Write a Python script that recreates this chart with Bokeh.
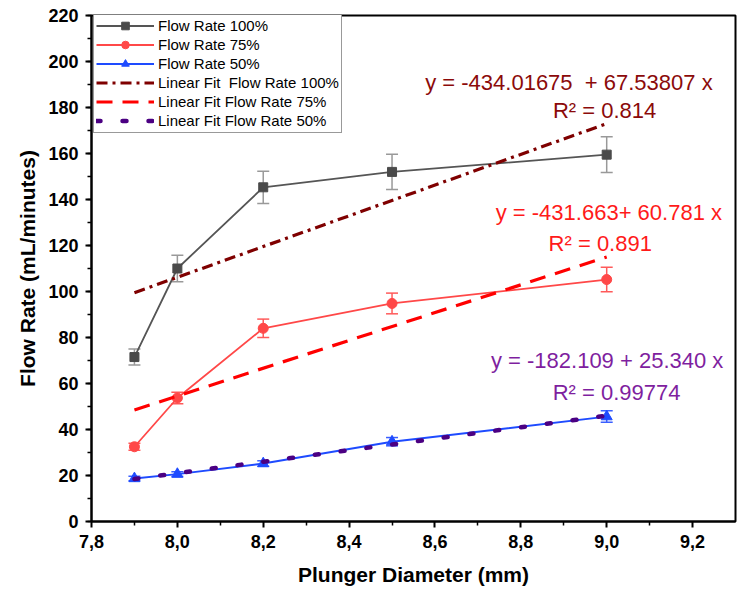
from bokeh.plotting import figure
from bokeh.models import (ColumnDataSource, Whisker, TeeHead, Legend, LegendItem,
                          Label, FixedTicker, SingleIntervalTicker, Range1d)
from bokeh.embed import file_html
from bokeh.resources import INLINE

# ---- data ----
diam = [7.9, 8.0, 8.2, 8.5, 9.0]
flow100 = [71.5, 110.0, 145.3, 152.0, 159.5]
err100 = [3.5, 5.8, 7.0, 7.7, 7.8]
flow75 = [32.5, 53.7, 84.0, 94.8, 105.2]
err75 = [1.5, 2.5, 4.0, 4.5, 5.3]
flow50 = [18.7, 20.6, 25.2, 34.7, 45.6]
err50 = [1.0, 1.0, 1.2, 1.8, 2.5]

fit_x = [7.9, 9.0]
fit100 = [99.5, 173.0]
fit75 = [48.5, 115.0]
fit50 = [18.5, 46.0]

x_ticks = [7.8, 8.0, 8.2, 8.4, 8.6, 8.8, 9.0, 9.2]
x_tick_labels = ["7,8", "8,0", "8,2", "8,4", "8,6", "8,8", "9,0", "9,2"]
x_minor = [7.9, 8.1, 8.3, 8.5, 8.7, 8.9, 9.1]

series_labels = ["Flow Rate 100%", "Flow Rate 75%", "Flow Rate 50%",
                 "Linear Fit \u00a0Flow Rate 100%", "Linear Fit Flow Rate 75%",
                 "Linear Fit Flow Rate 50%"]
eq100 = ["y = -434.01675 \u00a0+ 67.53807 x", "R\u00b2 = 0.814"]
eq75 = ["y = -431.663+ 60.781 x", "R\u00b2 = 0.891"]
eq50 = ["y = -182.109 + 25.340 x", "R\u00b2 = 0.99774"]

FONT = "Liberation Sans"

p = figure(width=743, height=596, output_backend="svg", toolbar_location=None,
           x_range=Range1d(7.8, 9.3), y_range=Range1d(0, 220),
           min_border_left=91, min_border_top=15, min_border_right=8, min_border_bottom=75)
p.background_fill_color = "white"
p.border_fill_color = "white"
p.grid.visible = False
p.outline_line_color = "black"
p.outline_line_width = 2

# axes
p.xaxis.ticker = FixedTicker(ticks=x_ticks, minor_ticks=x_minor)
p.xaxis.major_label_overrides = {t: l for t, l in zip(x_ticks, x_tick_labels)}
p.yaxis.ticker = SingleIntervalTicker(interval=20, num_minor_ticks=2)
for ax in (p.xaxis[0], p.yaxis[0]):
    ax.axis_line_width = 2
    ax.axis_line_color = "black"
    ax.major_tick_line_width = 2
    ax.major_tick_line_color = "black"
    ax.minor_tick_line_width = 1.5
    ax.minor_tick_line_color = "black"
    ax.major_tick_out = 6
    ax.major_tick_in = 0
    ax.minor_tick_out = 4
    ax.minor_tick_in = 0
    ax.major_label_text_font = FONT
    ax.major_label_text_font_style = "bold"
    ax.major_label_text_font_size = "18px"
    ax.major_label_text_color = "black"
    ax.axis_label_text_font = FONT
    ax.axis_label_text_font_style = "bold"
    ax.axis_label_text_font_size = "21px"
    ax.axis_label_text_color = "black"
p.xaxis.axis_label = "Plunger Diameter (mm)"
p.yaxis.axis_label = "Flow Rate (mL/minutes)"
p.xaxis.major_label_standoff = 7
p.xaxis.axis_label_standoff = 12
p.yaxis.major_label_standoff = 7
p.yaxis.axis_label_standoff = 6

src = ColumnDataSource(dict(x=diam, f100=flow100, f75=flow75, f50=flow50,
                            u100=[v + e for v, e in zip(flow100, err100)],
                            l100=[v - e for v, e in zip(flow100, err100)],
                            u75=[v + e for v, e in zip(flow75, err75)],
                            l75=[v - e for v, e in zip(flow75, err75)],
                            u50=[v + e for v, e in zip(flow50, err50)],
                            l50=[v - e for v, e in zip(flow50, err50)]))
fit_src = ColumnDataSource(dict(x=fit_x, f100=fit100, f75=fit75, f50=fit50))

c100, c75, c50 = "#555555", "#ff4848", "#1e4bff"
e100, e75, e50 = "#999999", "#ff5a5a", "#3a5fff"

for up, lo, col in (("u100", "l100", e100), ("u75", "l75", e75), ("u50", "l50", e50)):
    w = Whisker(base="x", upper=up, lower=lo, source=src, line_color=col, line_width=1.5,
                upper_head=TeeHead(size=12, line_color=col, line_width=1.5),
                lower_head=TeeHead(size=12, line_color=col, line_width=1.5))
    p.add_layout(w)

l1 = p.line("x", "f100", source=src, line_color=c100, line_width=1.8)
m1 = p.scatter("x", "f100", source=src, marker="square", size=9, fill_color="#4a4a4a", line_color="#4a4a4a")
l2 = p.line("x", "f75", source=src, line_color=c75, line_width=1.8)
m2 = p.scatter("x", "f75", source=src, marker="circle", size=10, fill_color=c75, line_color=c75)
l3 = p.line("x", "f50", source=src, line_color=c50, line_width=2)
m3 = p.scatter("x", "f50", source=src, marker="triangle", size=11, fill_color=c50, line_color=c50)

f1 = p.line("x", "f100", source=fit_src, line_color="#7f0000", line_width=3.2, line_dash="11 5 3 5")
f2 = p.line("x", "f75", source=fit_src, line_color="#ff0000", line_width=3.2, line_dash="16 10")
f3 = p.line("x", "f50", source=fit_src, line_color="#4b0082", line_width=4.5,
            line_dash="4 22", line_cap="round")

legend = Legend(items=[
    LegendItem(label=series_labels[0], renderers=[l1, m1]),
    LegendItem(label=series_labels[1], renderers=[l2, m2]),
    LegendItem(label=series_labels[2], renderers=[l3, m3]),
    LegendItem(label=series_labels[3], renderers=[f1]),
    LegendItem(label=series_labels[4], renderers=[f2]),
    LegendItem(label=series_labels[5], renderers=[f3]),
], location=(2, 388))
legend.label_text_font = FONT
legend.label_text_font_size = "15px"
legend.label_text_color = "black"
legend.label_height = 19
legend.glyph_height = 19
legend.glyph_width = 58
legend.label_standoff = 4
legend.spacing = 0
legend.padding = 2
legend.margin = 0
legend.border_line_color = "#333333"
legend.border_line_width = 1
legend.background_fill_color = "white"
legend.background_fill_alpha = 1
p.add_layout(legend, "center")

def add_eq(lines, col, pos):
    for txt, (x, y) in zip(lines, pos):
        p.add_layout(Label(x=x, y=y, text=txt, text_color=col, text_font=FONT,
                           text_font_size="22px", text_align="center",
                           text_baseline="alphabetic"))

add_eq(eq100, "#8b0a0a", [(8.912, 190.9), (8.995, 178.7)])
add_eq(eq75, "#ff1a1a", [(9.005, 134.3), (8.985, 120.9)])
add_eq(eq50, "#7f1f9f", [(9.001, 70.0), (9.023, 56.1)])

open("out.html", "w").write(file_html(p, INLINE))
